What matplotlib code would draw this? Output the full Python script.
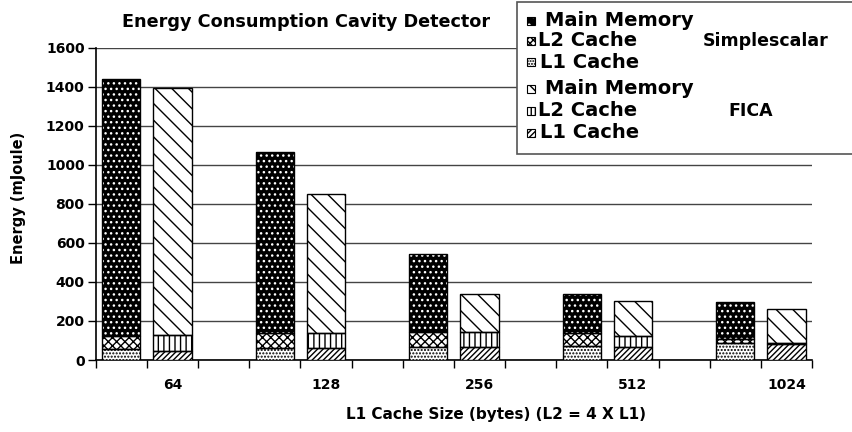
import matplotlib
matplotlib.use('Agg')

import matplotlib.pyplot as plt
from matplotlib.patches import Rectangle
import numpy as np

plt.rcParams['font.family'] = ['DejaVu Sans']
plt.rcParams['font.weight'] = 'bold'
plt.rcParams['hatch.linewidth'] = 1.0

sizes = ["64", "128", "256", "512", "1024"]

# Simplescalar (mJoule)
simple_l1 = [56, 64, 65, 72, 89]
simple_l2 = [67, 73, 80, 65, 17]
simple_main = [1318, 930, 396, 199, 193]

# FICA (mJoule)
fica_l1 = [48, 64, 65, 65, 84]
fica_l2 = [80, 73, 77, 58, 1]
fica_main = [1267, 713, 196, 181, 176]

W, H = 852, 432
fig = plt.figure(figsize=(W / 100, H / 100), dpi=100)
ax = fig.add_axes([95.7 / W, 1 - 360 / H, (812 - 95.7) / W, (360 - 47.7) / H])

# three slots per group: simplescalar, fica, gap
xs = np.arange(len(sizes)) * 3
xf = xs + 1
w = 0.75


def stack(x, vals, styles):
    bottom = np.zeros(len(x))
    for v, (fc, hc, h) in zip(vals, styles):
        v = np.array(v, dtype=float)
        ax.bar(x, v, w, bottom=bottom, color=fc, edgecolor=hc, hatch=h,
               linewidth=0, zorder=3)
        ax.bar(x, v, w, bottom=bottom, fill=False, edgecolor='black',
               linewidth=1.0, zorder=4)
        bottom += v


simple_styles = [('white', 'black', '.....'),
                 ('white', 'black', 'xxxx'),
                 ('black', 'white', '...')]
fica_styles = [('white', 'black', '//////'),
               ('white', 'black', '|||'),
               ('white', 'black', '\\\\')]

stack(xs, [simple_l1, simple_l2, simple_main], simple_styles)
stack(xf, [fica_l1, fica_l2, fica_main], fica_styles)

ax.set_xlim(-0.5, 13.5)
ax.set_ylim(0, 1600)
ax.set_yticks(np.arange(0, 1601, 200))
ax.set_xticks(xf)
ax.set_xticklabels(sizes)
ax.set_xticks(np.arange(-0.5, 13.6, 1), minor=True)
ax.tick_params(axis='x', which='major', length=0, pad=13, labelsize=10)
ax.tick_params(axis='x', which='minor', length=6, width=1, direction='out')
ax.tick_params(axis='y', length=6, width=1, labelsize=10, pad=2)

ax.grid(axis='y', color='#444444', linewidth=1.0, zorder=0)
ax.set_axisbelow(True)
ax.spines['top'].set_visible(False)
ax.spines['right'].set_visible(False)
ax.spines['left'].set_linewidth(1.2)
ax.spines['bottom'].set_linewidth(1.2)

ax.set_ylabel("Energy (mJoule)", fontsize=10.5, fontweight='bold')
ax.yaxis.set_label_coords(-0.097, 0.52)
fig.text(496 / W, 1 - 415 / H, "L1 Cache Size (bytes) (L2 = 4 X L1)",
         ha='center', va='center', fontsize=11, fontweight='bold')
fig.text(306 / W, 1 - 22 / H, "Energy Consumption Cavity Detector",
         ha='center', va='center', fontsize=12.7, fontweight='bold')

# legend box drawn by hand (runs off the right edge)
box = Rectangle((517 / W, 1 - 154 / H), 400 / W, 152 / H,
                transform=fig.transFigure, facecolor='white',
                edgecolor='#555555', linewidth=1.2, zorder=10)
fig.add_artist(box)

labels = ["Main Memory", "L2 Cache", "L1 Cache",
          "Main Memory", "L2 Cache", "L1 Cache"]
rows = [21, 41, 62, 89, 111, 133]
text_x = [545, 538, 540, 545, 538, 540]
leg_styles = [('black', 'white', '..'), ('white', 'black', 'xxxxx'),
              ('white', 'black', '......'), ('white', 'black', '\\\\\\'),
              ('white', 'black', '||||'), ('white', 'black', '//////')]
for lab, ry, tx, (fc, hc, h) in zip(labels, rows, text_x, leg_styles):
    sq = Rectangle((527 / W, 1 - (ry + 4) / H), 8 / W, 8 / H,
                   transform=fig.transFigure, facecolor=fc, edgecolor=hc,
                   hatch=h, linewidth=0, zorder=11)
    fig.add_artist(sq)
    fig.add_artist(Rectangle((527 / W, 1 - (ry + 4) / H), 8 / W, 8 / H,
                             transform=fig.transFigure, fill=False,
                             edgecolor='black', linewidth=0.8, zorder=12))
    fig.text(tx / W, 1 - ry / H, lab, fontsize=14, fontweight='bold',
             va='center', ha='left', zorder=12)

fig.text(703 / W, 1 - 41 / H, "Simplescalar", fontsize=12.5,
         fontweight='bold', va='center', zorder=12)
fig.text(728 / W, 1 - 111 / H, "FICA", fontsize=12.5, fontweight='bold',
         va='center', zorder=12)

fig.savefig("out.png", dpi=100)
